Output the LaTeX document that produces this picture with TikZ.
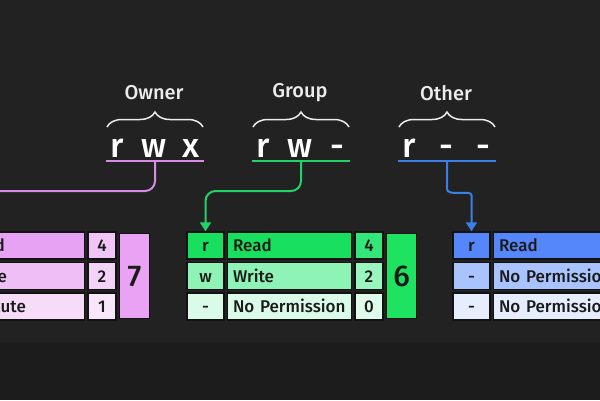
\documentclass[tikz,border=0pt]{standalone}
\usepackage{fontspec}
\setmainfont{Fira Sans Medium}
\usepackage{tikz}
\usetikzlibrary{positioning,arrows.meta,decorations.pathreplacing}
\definecolor{bgtop}{HTML}{222222}
\definecolor{bgbot}{HTML}{1C1C1C}
\definecolor{ink}{HTML}{1A1A1A}
\definecolor{rule}{HTML}{121212}
\definecolor{labelc}{HTML}{ECECEC}
\definecolor{oline}{HTML}{D98BE8}
\definecolor{gline}{HTML}{22D468}
\definecolor{bline}{HTML}{3B7FE8}
\definecolor{o1}{HTML}{E8A2F3}\definecolor{o2}{HTML}{EFBEF6}\definecolor{o3}{HTML}{F6DCF9}
\definecolor{o1n}{HTML}{F1C5F7}\definecolor{o2n}{HTML}{F4D3F8}\definecolor{o3n}{HTML}{F9E6FB}
\definecolor{ot}{HTML}{E9A2F4}
\definecolor{g1}{HTML}{18E05E}\definecolor{g2}{HTML}{8EF4B5}\definecolor{g3}{HTML}{DAFBE8}
\definecolor{g1n}{HTML}{34E67A}\definecolor{g2n}{HTML}{9AF5BE}\definecolor{g3n}{HTML}{DFFCEB}
\definecolor{gt}{HTML}{1EE360}
\definecolor{b1}{HTML}{5586FA}\definecolor{b2}{HTML}{A9C3FE}\definecolor{b3}{HTML}{E5EDFE}
\definecolor{b1n}{HTML}{6A94FB}\definecolor{b2n}{HTML}{B4CBFE}\definecolor{b3n}{HTML}{EAF0FE}
\definecolor{bt}{HTML}{5586FA}

\begin{document}
\begin{tikzpicture}[x=1pt, y=-1pt,
  node distance=2pt,
  cell/.style={draw=rule, line width=1.5pt, minimum width=37pt, minimum height=27pt, inner sep=0pt,
    text height=12pt, text depth=0pt, text=ink, font=\fontsize{17}{19}\selectfont},
  namecell/.style={cell, minimum width=0pt, text width=113pt, inner xsep=5.5pt, align=left},
  numcell/.style={cell, minimum width=28pt},
  totcell/.style={cell, minimum width=30pt, minimum height=85pt, text height=21pt, font=\fontsize{30}{32}\selectfont},
  trip/.style={anchor=base, inner sep=0pt, text=white, font=\fontsize{34}{36}\selectfont},
  lab/.style={text=labelc, inner sep=0pt, font=\fontsize{20}{22}\selectfont},
  brc/.style={decorate, decoration={brace, amplitude=15pt}, draw=labelc, line width=1.5pt},
  under/.style={line width=2.5pt},
  link/.style={line width=2pt, rounded corners=10pt, -{Triangle[length=9pt,width=11pt]}}]
\useasboundingbox (0,0) rectangle (600,400);
\clip (0,0) rectangle (600,400);
\fill[bgtop] (0,0) rectangle (600,342);
\fill[bgbot] (0,342) rectangle (600,400);
% triplets with braces and labels
\foreach \k/\cx/\lab/\la/\lb/\lc in {o/155/Owner/r/w/x, g/301/Group/r/w/-, b/447/Other/r/-/-}{
  \node[trip] (\k-T) at (\cx-1,157) {\makebox[37pt]{\la}\makebox[37pt]{\lb}\makebox[37pt]{\lc}};
  \coordinate (\k-U) at (\cx,161);
  \draw[under, \k line] ([xshift=-49pt]\k-U) -- ([xshift=49pt]\k-U);
  \draw[brc] ([xshift=-48pt,yshift=34pt]\k-U) -- ([xshift=48pt,yshift=34pt]\k-U);
  \node[lab] (\k-L) at (\cx-1,93) {\lab};
}
% permission tables
\foreach \k/\x/\la/\lb/\lc/\na/\nb/\nc/\va/\vb/\vc/\vt in {
    o/-61.5/r/w/x/Read/Write/Execute/4/2/1/7,
    g/205.5/r/w/-/Read/Write/No Permission/4/2/0/6,
    b/471.5/r/-/-/Read/No Permission/No Permission/4/0/0/4}{
  \node[cell, fill=\k1] (\k-r1) at (\x,245.5) {\la};
  \node[cell, fill=\k2, below=of \k-r1] (\k-r2) {\lb};
  \node[cell, fill=\k3, below=of \k-r2] (\k-r3) {\lc};
  \node[namecell, fill=\k1, right=of \k-r1] (\k-n1) {\na};
  \node[namecell, fill=\k2, right=of \k-r2] (\k-n2) {\nb};
  \node[namecell, fill=\k3, right=of \k-r3] (\k-n3) {\nc};
  \node[numcell, fill=\k1n, right=of \k-n1] (\k-v1) {\va};
  \node[numcell, fill=\k2n, right=of \k-n2] (\k-v2) {\vb};
  \node[numcell, fill=\k3n, right=of \k-n3] (\k-v3) {\vc};
  \node[totcell, fill=\k t, right=of \k-v2] (\k-t) {\vt};
}
% connectors
\draw[link, oline] (o-U) -- ++(0,30) -| (o-r1.north);
\draw[link, gline] (g-U) -- ++(0,30) -| (g-r1.north);
\draw[link, bline] (b-U) -- ++(0,18) .. controls +(0,18) and +(0,-16) .. ([yshift=26pt]b-r1.north) -- (b-r1.north);
\end{tikzpicture}
\end{document}
